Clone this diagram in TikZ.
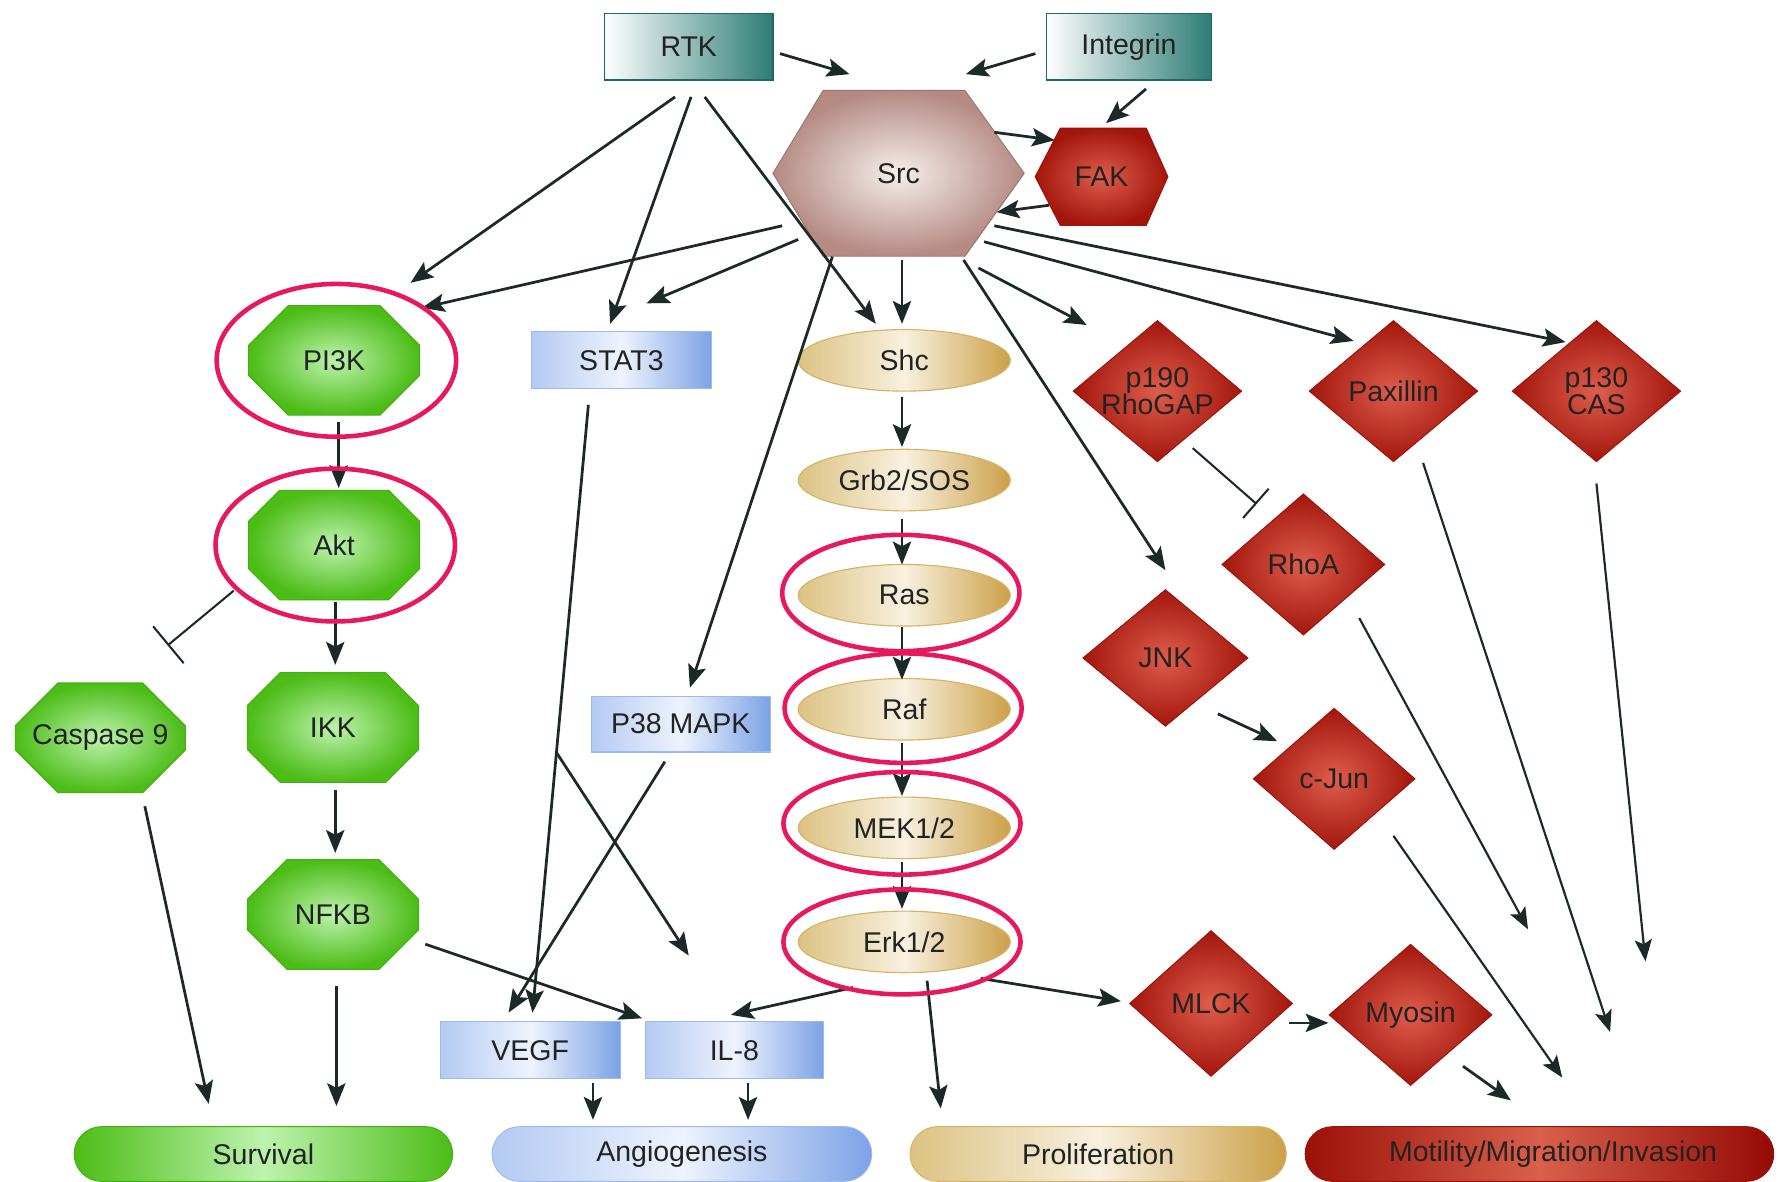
\documentclass[tikz,border=0pt]{standalone}
\usepackage{fontspec}
\setmainfont{Liberation Sans}
\usetikzlibrary{shapes.geometric,shapes.misc,arrows.meta,calc,backgrounds}
\definecolor{lnc}{HTML}{1B2928}
\definecolor{tealD}{HTML}{2C7C74}
\definecolor{tealB}{HTML}{1E6A63}
\definecolor{grIn}{HTML}{BDF3AE}
\definecolor{grOut}{HTML}{4CBC16}
\definecolor{grB}{HTML}{45B012}
\definecolor{blL}{HTML}{B3CAF2}
\definecolor{blM}{HTML}{EEF3FD}
\definecolor{blR}{HTML}{7CA2E6}
\definecolor{blB}{HTML}{9DBAEE}
\definecolor{tnL}{HTML}{DCC283}
\definecolor{tnM}{HTML}{F8F1E0}
\definecolor{tnR}{HTML}{CCA048}
\definecolor{tnB}{HTML}{D4B465}
\definecolor{rdIn}{HTML}{DE5E4C}
\definecolor{rdOut}{HTML}{A3150C}
\definecolor{rdB}{HTML}{9A120A}
\definecolor{srcIn}{HTML}{F6EEEC}
\definecolor{srcOut}{HTML}{B48A82}
\definecolor{hl}{HTML}{E8185C}
\definecolor{txt}{HTML}{222222}
\definecolor{mtL}{HTML}{9C1008}
\definecolor{mtM}{HTML}{D9604C}
\definecolor{mtR}{HTML}{950A04}
\begin{document}
\begin{tikzpicture}[x=1pt,y=-1pt,
  lbl/.style={font=\fontsize{25}{24}\selectfont, text=txt, align=center},
  arr/.style={draw=lnc, line width=2.4pt, -{Stealth[length=20pt,width=16pt,inset=4pt]}},
  thinarr/.style={draw=lnc, line width=1.9pt, -{Stealth[length=19pt,width=15pt,inset=4pt]}},
  inh/.style={draw=lnc, line width=1.8pt, -{Bar[width=#1, line width=1.8pt]}},
  tealbox/.style={lbl, rectangle, draw=tealB, line width=1.2pt, left color=white, right color=tealD, minimum width=148pt, minimum height=58pt, inner sep=0pt},
  bluebox/.style={lbl, rectangle, draw=blB, line width=1pt, left color=blL, right color=blR, middle color=blM, minimum width=158pt, minimum height=50pt, inner sep=0pt},
  oct/.style={lbl, chamfered rectangle, chamfered rectangle xsep=28pt, chamfered rectangle ysep=26pt, draw=grB, line width=1pt, inner color=grIn, outer color=grOut, minimum width=150pt, minimum height=96pt, inner sep=0pt},
  tan/.style={lbl, ellipse, draw=tnB, line width=1pt, left color=tnL, right color=tnR, middle color=tnM, minimum width=186pt, minimum height=54pt, inner sep=0pt},
  dia/.style={lbl, diamond, aspect=1.2, draw=rdB, line width=0.8pt, inner color=rdIn, outer color=rdOut, minimum width=148pt, minimum height=124pt, inner sep=0pt},
  pill/.style={lbl, rounded rectangle, minimum height=48pt, inner sep=0pt, line width=0.8pt},
  hexbox/.style={lbl, rectangle, inner sep=0pt},
  hilite/.style={draw=hl, line width=4pt},
]
\useasboundingbox (0,0) rectangle (1568,1036);

% ---------- top
\node[tealbox] (RTK) at (604,41) {RTK};
\node[tealbox, minimum width=145pt] (Int) at (990,41) {Integrin};
\node[hexbox, minimum width=220pt, minimum height=145pt] (Src) at (788,152) {Src};
\node[hexbox, minimum width=116pt, minimum height=85pt] (FAK) at (966,155) {FAK};

% ---------- green column
\node[oct] (PI3K) at (293,316) {PI3K};
\node[oct] (Akt) at (293,478) {Akt};
\node[oct, minimum width=149pt] (Casp) at (88,647) {Caspase 9};
\node[oct] (IKK) at (292,638) {IKK};
\node[oct] (NFKB) at (292,802) {NFKB};

% ---------- blue boxes
\node[bluebox] (STAT3) at (545,316) {STAT3};
\node[bluebox, minimum width=157pt, minimum height=49pt] (P38) at (597,635) {P38 MAPK};
\node[bluebox] (VEGF) at (465,921) {VEGF};
\node[bluebox, minimum width=156pt] (IL8) at (644,921) {IL-8};

% ---------- tan ellipses
\node[tan] (Shc) at (793,316) {Shc};
\node[tan] (Grb) at (793,421) {Grb2/SOS};
\node[tan] (Ras) at (793,522) {Ras};
\node[tan] (Raf) at (793,622) {Raf};
\node[tan] (MEK) at (793,726) {MEK1/2};
\node[tan] (Erk) at (793,826) {Erk1/2};

% ---------- red diamonds
\node[dia, inner sep=-6pt] (p190) at (1015,343) {p190\\RhoGAP};
\node[dia] (Pax) at (1222,343) {Paxillin};
\node[dia, inner sep=-6pt] (p130) at (1400,343) {p130\\CAS};
\node[dia, minimum width=143pt] (RhoA) at (1143,495) {RhoA};
\node[dia, minimum width=145pt, minimum height=120pt] (JNK) at (1022,577) {JNK};
\node[dia, minimum width=142pt] (cJun) at (1170,683) {c-Jun};
\node[dia, minimum width=143pt, minimum height=128pt] (MLCK) at (1062,880) {MLCK};
\node[dia, minimum width=143pt] (Myosin) at (1237,890) {Myosin};

% ---------- outcome pills
\node[pill, minimum width=332pt, draw=grB, left color=grOut, right color=grOut, middle color=grIn] (Surv) at (231,1012) {Survival};
\node[pill, minimum width=333pt, draw=blB, left color=blL, right color=blR, middle color=blM] (Angio) at (598,1012) {Angiogenesis};
\node[pill, minimum width=330pt, draw=tnB, left color=tnL, right color=tnR, middle color=tnM] (Prolif) at (963,1012) {Proliferation};
\node[pill, minimum width=411pt, draw=rdB, left color=mtL, right color=mtR, middle color=mtM] (Motil) at (1350,1012) {\hspace*{24pt}Motility/Migration/Invasion};

% ---------- hexagon bodies of Src and FAK (behind their labels)
\begin{scope}[on background layer]
\fill[white] (0,0) rectangle (1568,1036);
\shade[inner color=srcIn, outer color=srcOut, draw=srcOut!85!black, line width=0.8pt]
  (Src.west) -- ([xshift=44pt]Src.north west) -- ([xshift=-52pt]Src.north east) -- (Src.east)
  -- ([xshift=-52pt]Src.south east) -- ([xshift=44pt]Src.south west) -- cycle;
\shade[inner color=rdIn, outer color=rdOut, draw=rdB, line width=0.8pt]
  (FAK.west) -- ([xshift=22pt]FAK.north west) -- ([xshift=-19pt]FAK.north east) -- (FAK.east)
  -- ([xshift=-19pt]FAK.south east) -- ([xshift=22pt]FAK.south west) -- cycle;
\end{scope}

% ---------- connectors: top
\draw[arr] ($(RTK)+(80,6)$) -- ($(Src)+(-43,-87)$);
\draw[arr] ($(Int)+(-82,6)$) -- ($(Src)+(59,-87)$);
\draw[arr] ($(Int)+(15,37)$) -- ($(FAK)+(4,-47)$);
\draw[arr] ($(Src)+(84,-36)$) -- ($(FAK)+(-41,-32)$);
\draw[arr] ($(FAK)+(-46,25)$) -- ($(Src)+(86,34)$);
\draw[arr] ($(RTK)+(-12,44)$) -- ($(PI3K)+(67,-68)$);
\draw[arr] ($(RTK)+(2,44)$) -- ($(STAT3)+(-10,-32)$);
\draw[arr] ($(RTK)+(14,44)$) -- ($(Shc)+(-25,-32)$);
\draw[arr] ($(Src)+(-102,46)$) -- ($(PI3K)+(77,-46)$);
\draw[arr] ($(Src)+(-88,58)$) -- ($(STAT3)+(22,-50)$);
\draw[arr] ($(Src)+(3,76)$) -- ($(Shc)+(-2,-32)$);
\draw[arr] ($(Src)+(-58,73)$) -- ($(P38)+(8,-32)$);
\draw[arr] ($(Src)+(57,76)$) -- ($(JNK)+(0,-77)$);
\draw[arr] ($(Src)+(70,83)$) -- ($(p190)+(-62,-58)$);
\draw[arr] ($(Src)+(75,60)$) -- ($(Pax)+(-35,-44)$);
\draw[arr] ($(Src)+(84,46)$) -- ($(p130)+(-27,-43)$);

% ---------- left
\draw[arr] ($(PI3K)+(4,54)$) -- ($(Akt)+(4,-50)$);
\draw[arr] ($(Akt)+(1,50)$) -- ($(IKK)+(2,-55)$);
\draw[inh=42pt] ($(Akt)+(-88,40)$) -- ($(Casp)+(59,-81)$);
\draw[arr] ($(IKK)+(2,55)$) -- ($(NFKB)+(2,-54)$);
\draw[arr] ($(NFKB)+(3,63)$) -- ($(Surv)+(64,-42)$);
\draw[arr] ($(Casp)+(39,60)$) -- ($(Surv)+(-48,-44)$);
\draw[arr] ($(NFKB)+(81,26)$) -- ($(IL8)+(-81,-28)$);

% ---------- middle
\coordinate (s3a) at ($(STAT3)+(-29,39)$);
\coordinate (s3b) at ($(VEGF)+(2,-33)$);
\draw[arr] (s3a) -- (s3b);
\draw[arr] ($(s3a)!0.572!(s3b)$) -- ($(IL8)+(-40,-83)$);
\draw[arr] ($(P38)+(-14,33)$) -- ($(VEGF)+(-19,-33)$);
\draw[arr] ($(Erk)+(-45,40)$) -- ($(IL8)+(-3,-31)$);
\draw[arr] ($(VEGF)+(55,29)$) -- ($(Angio)+(-78,-30)$);
\draw[arr] ($(IL8)+(12,29)$) -- ($(Angio)+(58,-30)$);

% ---------- tan chain
\draw[arr] ($(Shc)+(-2,32)$) -- ($(Grb)+(-2,-29)$);
\draw[arr] ($(Grb)+(-2,34)$) -- ($(Ras)+(-2,-27)$);
\draw[arr] ($(Ras)+(-2,28)$) -- ($(Raf)+(-2,-26)$);
\draw[arr] ($(Raf)+(-2,30)$) -- ($(MEK)+(-2,-28)$);
\draw[arr] ($(MEK)+(-2,30)$) -- ($(Erk)+(-2,-29)$);
\draw[arr] ($(Erk)+(20,34)$) -- ($(Prolif)+(-138,-40)$);
\draw[arr] ($(Erk)+(67,32)$) -- ($(MLCK)+(-79,-2)$);

% ---------- red
\draw[inh=34pt] ($(p190)+(31,50)$) -- ($(RhoA)+(-41,-53)$);
\draw[arr] ($(JNK)+(46,49)$) -- ($(cJun)+(-50,-33)$);
\draw[thinarr] ($(RhoA)+(49,47)$) -- ($(Motil)+(-10,-197)$);
\draw[thinarr] ($(Pax)+(26,63)$) -- ($(Motil)+(62,-107)$);
\draw[thinarr] ($(p130)+(0,81)$) -- ($(Motil)+(93,-169)$);
\draw[thinarr] ($(cJun)+(52,50)$) -- ($(Motil)+(20,-67)$);
\draw[arr] ($(MLCK)+(68,17)$) -- ($(Myosin)+(-72,7)$);
\draw[arr] ($(Myosin)+(46,45)$) -- ($(Motil)+(-25,-47)$);

% ---------- highlight rings
\draw[hilite] ($(PI3K)+(2,0)$) ellipse [x radius=105, y radius=67];
\draw[hilite] ($(Akt)+(1,0)$) ellipse [x radius=105, y radius=67];
\draw[hilite] ($(Ras)+(-3,-2)$) ellipse [x radius=104, y radius=51];
\draw[hilite] ($(Raf)+(-1,-1)$) ellipse [x radius=104, y radius=48];
\draw[hilite] ($(MEK)+(-2,-4)$) ellipse [x radius=104, y radius=45];
\draw[hilite] ($(Erk)+(-2,0)$) ellipse [x radius=104, y radius=46];
\end{tikzpicture}
\end{document}
